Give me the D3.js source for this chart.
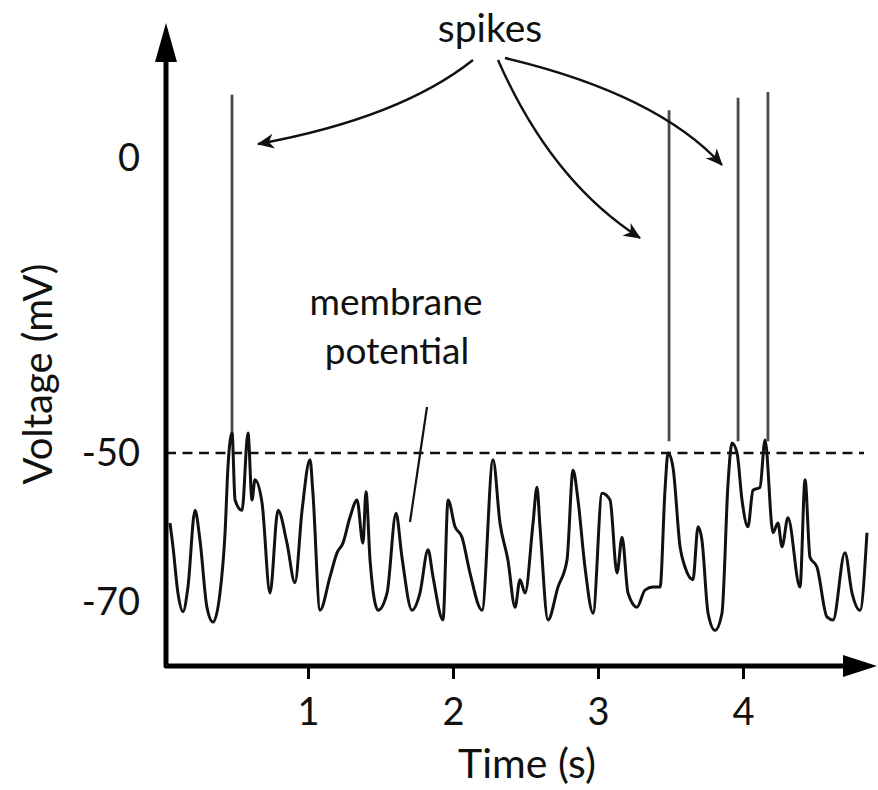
<!DOCTYPE html>
<html>
<head>
<meta charset="utf-8">
<script src="https://cdn.jsdelivr.net/npm/d3@7/dist/d3.min.js"></script>
<style>
  html, body { margin: 0; padding: 0; background: #fff; }
  svg { display: block; }
  text { font-family: Lato, "Open Sans", sans-serif; fill: #111; }
</style>
</head>
<body>
<svg id="chart" width="878" height="790"></svg>
<script>
// ---------------- data ----------------
const time = [0.048,0.069,0.103,0.138,0.172,0.221,0.255,0.303,0.345,0.393,0.428,0.448,0.476,0.497,0.545,0.586,0.614,0.634,0.683,0.738,0.793,0.855,0.910,0.959,1.014,1.034,1.083,1.152,1.200,1.241,1.290,1.338,1.379,1.400,1.428,1.483,1.545,1.607,1.648,1.717,1.772,1.828,1.862,1.931,1.966,2.014,2.062,2.117,2.200,2.276,2.324,2.379,2.428,2.462,2.497,2.552,2.579,2.600,2.655,2.724,2.786,2.828,2.862,2.910,2.966,3.028,3.083,3.131,3.166,3.207,3.269,3.324,3.379,3.428,3.462,3.483,3.517,3.566,3.600,3.655,3.690,3.717,3.759,3.807,3.855,3.897,3.924,3.959,3.993,4.034,4.069,4.117,4.152,4.207,4.241,4.269,4.310,4.393,4.428,4.462,4.510,4.579,4.621,4.703,4.752,4.807,4.855];
const voltage = [-59.4,-62.6,-68.8,-71.3,-68.0,-57.7,-61.7,-70.7,-72.7,-68.8,-60.7,-51.9,-46.6,-56.3,-57.7,-46.6,-56.3,-53.6,-56.7,-68.8,-57.7,-62.1,-67.4,-57.7,-50.9,-55.4,-71.1,-66.6,-63.4,-62.1,-58.6,-56.3,-62.1,-55.2,-64.4,-71.1,-68.8,-58.1,-64.0,-71.1,-68.8,-63.0,-66.6,-72.4,-56.3,-59.9,-61.3,-66.1,-71.1,-50.9,-59.4,-64.4,-70.7,-67.0,-68.8,-59.4,-54.6,-59.9,-72.4,-68.0,-64.4,-52.3,-56.3,-65.3,-71.5,-55.4,-56.3,-66.1,-61.3,-68.8,-70.7,-68.4,-68.0,-68.0,-55.0,-50.0,-51.9,-62.6,-65.3,-67.0,-59.9,-61.7,-71.5,-73.8,-71.5,-54.0,-48.3,-50.0,-56.3,-59.9,-55.0,-54.6,-47.8,-60.7,-59.4,-62.6,-58.7,-68.0,-53.6,-64.0,-65.3,-72.0,-72.4,-63.4,-68.8,-71.1,-60.7];
const spikeTimes = [0.476, 3.490, 3.966, 4.172];
const spikePeaks = [10.7, 8.1, 10.2, 11.2];
const spikeBase = -48;
const threshold = -50;
const xTicks = [1, 2, 3, 4];
const yTicks = [0, -50, -70];

// ---------------- scales ----------------
const svg = d3.select("#chart");
const x = d3.scaleLinear().domain([0, 5]).range([163, 163 + 145 * 5]);
const y = d3.scaleLinear().domain([-70, -50, 0]).range([602, 453, 158]);

const axisX = 166, axisY = 666;

// markers
const defs = svg.append("defs");
defs.append("marker")
  .attr("id", "ah")
  .attr("viewBox", "-17 -8 19 16")
  .attr("markerUnits", "userSpaceOnUse")
  .attr("markerWidth", 19).attr("markerHeight", 16)
  .attr("refX", 0).attr("refY", 0)
  .attr("orient", "auto")
  .append("path")
  .attr("d", "M1,0 L-16,-7.5 L-11,0 L-16,7.5 Z")
  .attr("fill", "#111");

// ---------------- threshold dashed line ----------------
svg.append("line")
  .attr("x1", axisX).attr("x2", 864)
  .attr("y1", y(threshold)).attr("y2", y(threshold))
  .attr("stroke", "#111").attr("stroke-width", 2.6)
  .attr("stroke-dasharray", "10,6.5");

// ---------------- spikes ----------------
svg.append("g").selectAll("line")
  .data(spikeTimes)
  .join("line")
  .attr("x1", d => x(d)).attr("x2", d => x(d))
  .attr("y1", y(spikeBase))
  .attr("y2", (d, i) => y(spikePeaks[i]))
  .attr("stroke", "#4a4a4a").attr("stroke-width", 2.8);

// ---------------- membrane potential trace ----------------
const pts = time.map((t, i) => [t, voltage[i]]);
svg.append("path")
  .datum(pts)
  .attr("fill", "none")
  .attr("stroke", "#111")
  .attr("stroke-width", 3)
  .attr("stroke-linejoin", "round")
  .attr("d", d3.line().curve(d3.curveMonotoneX).x(d => x(d[0])).y(d => y(d[1])));

// ---------------- axes ----------------
svg.append("path")
  .attr("d", `M${axisX},60 L${axisX},${axisY} L848,${axisY}`)
  .attr("fill", "none").attr("stroke", "#000").attr("stroke-width", 5)
  .attr("stroke-linejoin", "round");
svg.append("path").attr("d", `M${axisX},23 L${axisX - 11},62 L${axisX + 11},62 Z`).attr("fill", "#000");
svg.append("path").attr("d", `M877,${axisY} L843,${axisY - 11} L843,${axisY + 11} Z`).attr("fill", "#000");

const gx = svg.append("g")
  .attr("transform", `translate(0,${axisY})`)
  .call(d3.axisBottom(x).tickValues(xTicks).tickSize(13).tickPadding(19).tickFormat(d => String(d)));
gx.select(".domain").remove();
gx.selectAll(".tick line").attr("stroke", "#000").attr("stroke-width", 3);
gx.selectAll(".tick text").attr("font-size", 38).attr("font-family", "Lato").attr("fill", "#111");

const gy = svg.append("g")
  .attr("transform", `translate(${axisX},0)`)
  .call(d3.axisLeft(y).tickValues(yTicks).tickSize(0).tickPadding(26).tickFormat(d => String(d)));
gy.select(".domain").remove();
gy.selectAll(".tick text").attr("font-size", 38).attr("font-family", "Lato").attr("fill", "#111");

// axis titles
svg.append("text")
  .attr("x", 527).attr("y", 778)
  .attr("text-anchor", "middle")
  .attr("font-size", 41)
  .text("Time (s)");
svg.append("text")
  .attr("transform", "translate(52,374) rotate(-90)")
  .attr("text-anchor", "middle")
  .attr("font-size", 40)
  .text("Voltage (mV)");

// ---------------- annotations ----------------
svg.append("text")
  .attr("x", 490).attr("y", 42)
  .attr("text-anchor", "middle")
  .attr("font-size", 39)
  .text("spikes");

const arrows = [
  "M473,60 Q400,118 258,144",
  "M498,60 Q551,181 640,238",
  "M505,58 Q657,94 722,165"
];
svg.append("g").selectAll("path")
  .data(arrows)
  .join("path")
  .attr("d", d => d)
  .attr("fill", "none")
  .attr("stroke", "#111")
  .attr("stroke-width", 2.4)
  .attr("marker-end", "url(#ah)");

svg.append("text")
  .attr("x", 396).attr("y", 315)
  .attr("text-anchor", "middle")
  .attr("font-size", 37)
  .text("membrane");
svg.append("text")
  .attr("x", 397).attr("y", 364)
  .attr("text-anchor", "middle")
  .attr("font-size", 37)
  .text("potential");
svg.append("line")
  .attr("x1", 427).attr("y1", 407)
  .attr("x2", 410).attr("y2", 522)
  .attr("stroke", "#111").attr("stroke-width", 2.2);
</script>
</body>
</html>
